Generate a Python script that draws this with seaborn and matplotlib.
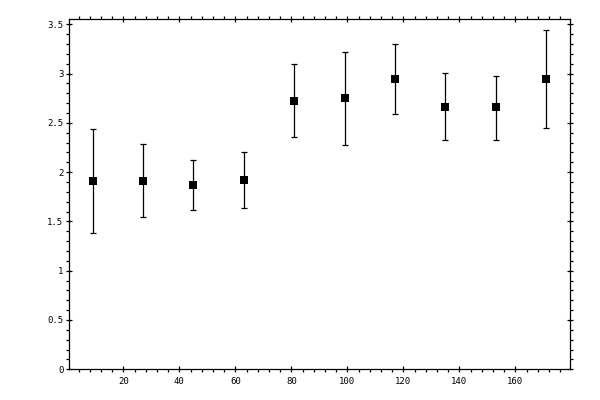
import matplotlib
matplotlib.use("Agg")
import matplotlib.pyplot as plt
from matplotlib.ticker import MultipleLocator
import seaborn as sns
import pandas as pd
import numpy as np

x_vals = [9, 27, 45, 63, 81, 99, 117, 135, 153, 171]
y_vals = [1.907, 1.907, 1.866, 1.917, 2.718, 2.748, 2.941, 2.657, 2.657, 2.941]
err_low = [0.528, 0.362, 0.253, 0.284, 0.362, 0.476, 0.355, 0.334, 0.334, 0.497]
err_high = [0.530, 0.375, 0.254, 0.284, 0.375, 0.473, 0.358, 0.345, 0.321, 0.497]

df = pd.DataFrame({"x": x_vals, "y": y_vals})

sns.set_style("white")
plt.rcParams["font.family"] = ["DejaVu Sans Mono"]

fig = plt.figure(figsize=(6, 4), dpi=100)
ax = fig.add_axes([0.1155, 0.0768, 0.95 - 0.1155, 0.9525 - 0.0768])

ax.errorbar(x_vals, y_vals, yerr=[err_low, err_high], fmt="none",
            ecolor="black", elinewidth=0.9, capsize=2.2, capthick=0.9, zorder=2)
sns.scatterplot(data=df, x="x", y="y", marker="s", color="black", s=28,
                edgecolor="black", linewidth=0, ax=ax, zorder=3)

ax.set_xlim(0.7, 179.5)
ax.set_ylim(0, 3.553)
ax.set_xlabel("")
ax.set_ylabel("")

ax.xaxis.set_minor_locator(MultipleLocator(4))
ax.yaxis.set_minor_locator(MultipleLocator(0.1))
ax.set_xticks([20, 40, 60, 80, 100, 120, 140, 160])
ax.set_xticklabels(["20", "40", "60", "80", "100", "120", "140", "160"])
ax.set_yticks([0, 0.5, 1, 1.5, 2, 2.5, 3, 3.5])
ax.set_yticklabels(["0", "0.5", "1", "1.5", "2", "2.5", "3", "3.5"])

for s in ax.spines.values():
    s.set_color("black")
    s.set_linewidth(0.9)

ax.tick_params(which="major", direction="inout", length=4.5, width=0.9,
               color="black", labelsize=6.5, labelcolor="black",
               top=True, right=True, bottom=True, left=True,
               labeltop=False, labelright=False)
ax.tick_params(which="minor", direction="out", length=2.2, width=0.9,
               color="black", top=True, right=True, bottom=True, left=True)
ax.tick_params(axis="x", which="major", pad=3)
ax.tick_params(axis="y", which="major", pad=2)

fig.savefig("out.png", dpi=100, facecolor="white")
